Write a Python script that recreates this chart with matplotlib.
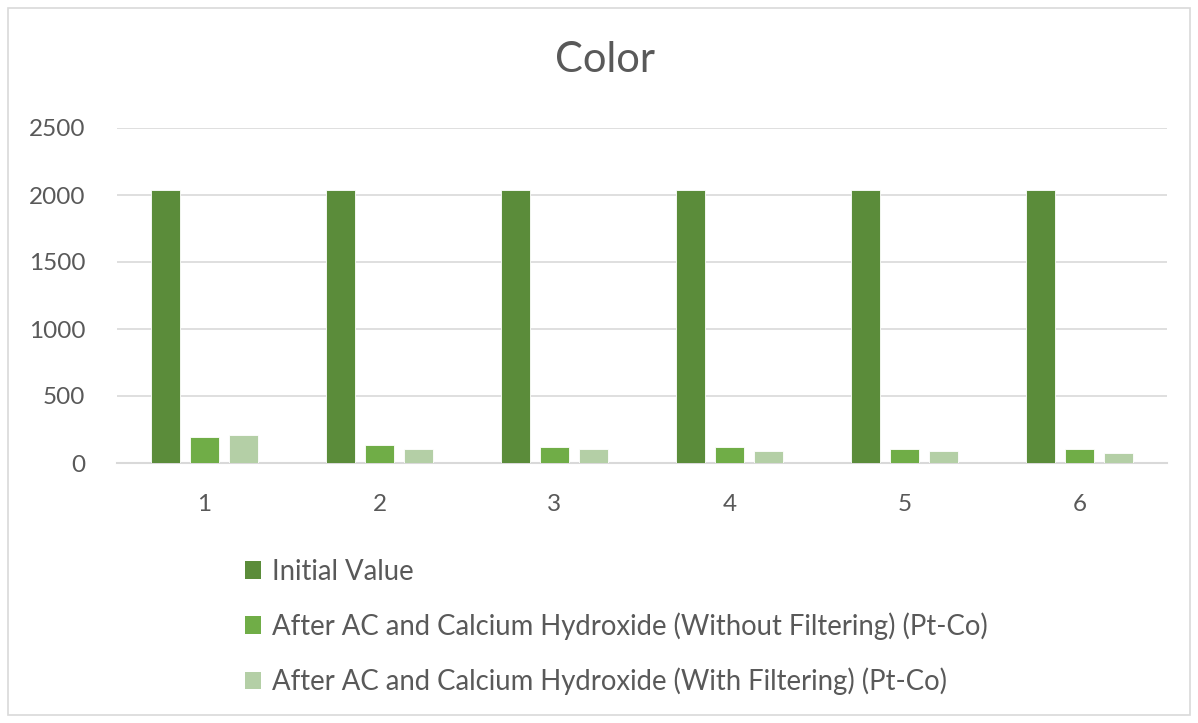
import matplotlib
matplotlib.use("Agg")
import matplotlib.pyplot as plt
import numpy as np
from matplotlib.patches import Rectangle, Patch

categories = ["1", "2", "3", "4", "5", "6"]
initial_value = [2040, 2040, 2040, 2040, 2040, 2040]
without_filtering = [195, 137, 122, 122, 107, 107]
with_filtering = [210, 107, 107, 92, 92, 77]
series_labels = [
    "Initial Value",
    "After AC and Calcium Hydroxide (Without Filtering) (Pt-Co)",
    "After AC and Calcium Hydroxide (With Filtering) (Pt-Co)",
]
y_ticks = [0, 500, 1000, 1500, 2000, 2500]

colors = ["#5B8C3A", "#70AD47", "#B4CFA6"]
text_color = "#595959"

plt.rcParams['font.family'] = ['Lato', 'DejaVu Sans']

fig = plt.figure(figsize=(11.98, 7.23), dpi=100)
ax = fig.add_axes([117/1198, (723-463)/723, (1167-117)/1198, (463-128)/723])

x = np.arange(len(categories))
width = 0.171
offset = 0.223
for i, (vals, col) in enumerate(zip([initial_value, without_filtering, with_filtering], colors)):
    ax.bar(x + (i - 1) * offset, vals, width, color=col, edgecolor="white", linewidth=0.6,
           zorder=3, label=series_labels[i])

ax.set_xlim(-0.5, 5.5)
ax.set_ylim(0, 2500)
ax.set_yticks(y_ticks)
ax.set_xticks(x)
ax.set_xticklabels(categories)
ax.grid(axis="y", color="#D9D9D9", linewidth=1.2, zorder=0)
for s in ["top", "right", "left"]:
    ax.spines[s].set_visible(False)
ax.spines["bottom"].set_color("#D9D9D9")
ax.spines["bottom"].set_linewidth(1.5)
ax.tick_params(axis="both", length=0, labelsize=17.5, labelcolor=text_color)
ax.tick_params(axis="y", pad=23)
ax.tick_params(axis="x", pad=22)

fig.text(605/1198, 1 - 60/723, "Color", ha="center", va="center", fontsize=30, color=text_color)

handles = [Patch(facecolor=c, edgecolor="none") for c in colors]
leg = fig.legend(handles, series_labels, loc="upper left",
                 bbox_to_anchor=(220/1198, 1 - 534/723), frameon=False,
                 fontsize=19.8, labelspacing=1.0, handlelength=0.6, handleheight=0.6,
                 handletextpad=0.4, labelcolor=text_color)

fig.add_artist(Rectangle((8/1198, 8/723), 1182/1198, 707/723, transform=fig.transFigure,
                         fill=False, edgecolor="#D9D9D9", linewidth=1.2))

fig.savefig("out.png", dpi=100, facecolor="white")
